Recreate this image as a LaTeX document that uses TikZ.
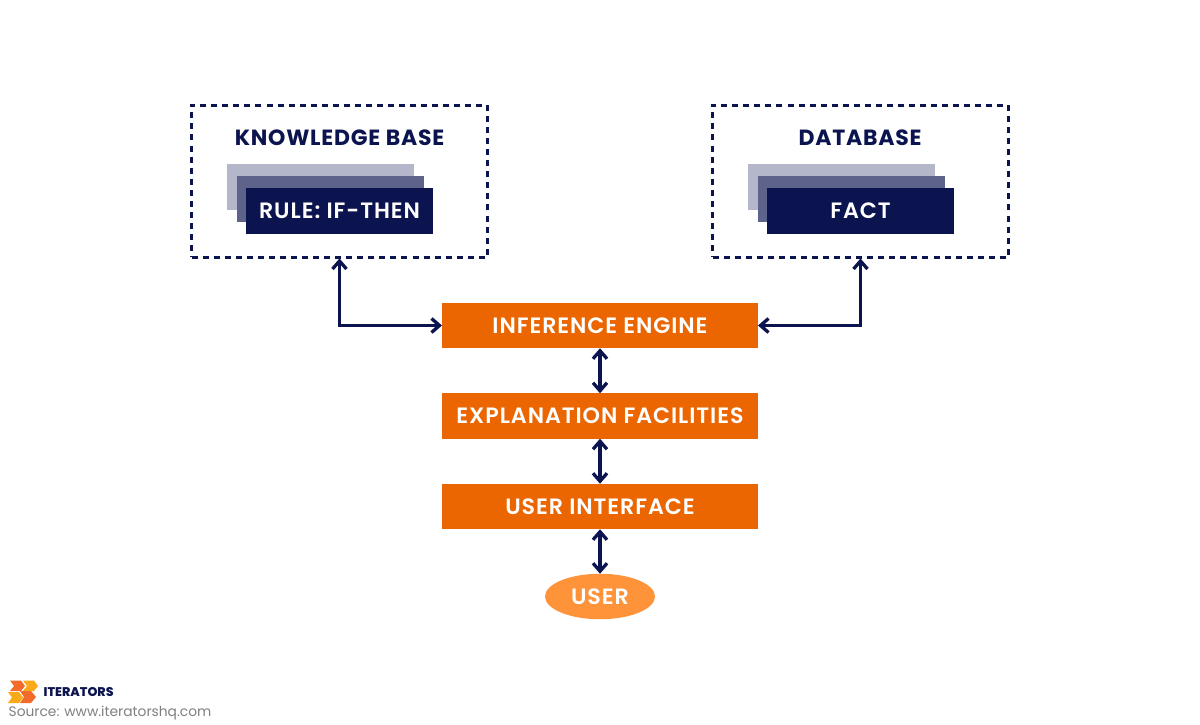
\documentclass[tikz,border=0pt]{standalone}
\usepackage{fontspec}
\setmainfont{Poppins}
\newfontfamily\labelfont[LetterSpace=4.2]{Poppins SemiBold}
\newfontfamily\titlefont[LetterSpace=3.5]{Poppins}
\newfontfamily\brandfont{Poppins ExtraBold}
\usetikzlibrary{arrows.meta,shapes.geometric}
\definecolor{navy}{HTML}{0C1450}
\definecolor{navymid}{HTML}{5E638B}
\definecolor{navylight}{HTML}{B4B6CA}
\definecolor{orng}{HTML}{EB6600}
\definecolor{lightorng}{HTML}{FF933A}
\definecolor{logoA}{HTML}{F26B2A}
\definecolor{logoB}{HTML}{FBA919}
\definecolor{srcgrey}{HTML}{808080}
\newcommand{\lowered}[1]{\raisebox{-0.8pt}{#1}}
\tikzset{
  x=1pt,y=-1pt,
  lbl/.style={font=\labelfont\fontsize{22.2}{22}\selectfont},
  ttl/.style={font=\titlefont\bfseries\fontsize{22}{22}\selectfont,text=navy},
  dashbox/.style={draw=navy,line width=3pt,dash pattern=on 6pt off 5.05pt},
  sheet/.style={minimum width=187pt,minimum height=46pt,inner sep=0pt,outer sep=0pt,anchor=north west},
  engine/.style={fill=orng,text=white,lbl,minimum width=316pt,minimum height=45.5pt,inner sep=0pt,outer sep=0pt},
  link/.style={draw=navy,line width=3.3pt,{Straight Barb[length=8pt,width=14pt,line width=3.3pt]}-{Straight Barb[length=8pt,width=14pt,line width=3.3pt]}},
}
\begin{document}
\begin{tikzpicture}
\useasboundingbox (0,0) rectangle (1200,725);
\fill[white] (0,0) rectangle (1200,725);
% knowledge base
\node[dashbox,minimum width=296pt,minimum height=152pt,inner sep=0pt,outer sep=1.5pt] (kb) at (339.5,181) {};
\node[ttl] (kbt) at (339.5,138) {KNOWLEDGE BASE};
\node[sheet,fill=navylight] (r1) at (227,164) {};
\node[sheet,fill=navymid] (r2) at (237,176) {};
\node[sheet,fill=navy,text=white,lbl] (r3) at (246,188) {RULE: IF-THEN};
% database
\node[dashbox,minimum width=296pt,minimum height=152pt,inner sep=0pt,outer sep=1.5pt] (db) at (860.5,181) {};
\node[ttl] (dbt) at (860,138) {DATABASE};
\node[sheet,fill=navylight] (f1) at (748,164) {};
\node[sheet,fill=navymid] (f2) at (758,176) {};
\node[sheet,fill=navy,text=white,lbl] (f3) at (767,188) {FACT};
% stack
\node[engine] (ie) at (600,325.5) {\lowered{INFERENCE ENGINE}};
\node[engine] (ef) at (600,416) {EXPLANATION FACILITIES};
\node[engine] (ui) at (600,506.5) {\lowered{USER INTERFACE}};
\node[ellipse,fill=lightorng,text=white,lbl,minimum width=110pt,minimum height=45.5pt,inner sep=0pt,outer sep=0pt] (us) at (600,596.5) {\lowered{USER}};
% connectors
\draw[link] (kb.south) |- (ie.west);
\draw[link] (db.south) |- (ie.east);
\draw[link] (ie.south) -- (ef.north);
\draw[link] (ef.south) -- (ui.north);
\draw[link] (ui.south) -- (us.north);
% logo
\fill[logoA] (10,680.5) -- (21,680.5) -- (25,686) -- (21,691) -- (10,691) -- (14,686) -- cycle;
\fill[logoB] (23,680.5) -- (34,680.5) -- (38,686) -- (34,691) -- (23,691) -- (27,686) -- cycle;
\fill[logoB] (8,692) -- (19,692) -- (23,697.5) -- (19,703) -- (8,703) -- (12,697.5) -- cycle;
\fill[logoA] (20,691) -- (31,691) -- (36,697) -- (31,703) -- (20,703) -- (24,697) -- cycle;
\node[anchor=west,inner sep=0pt,text=navy,font=\brandfont\fontsize{12.6}{13}\selectfont] (brand) at (43.5,692.5) {ITERATORS};
\node[anchor=west,inner sep=0pt,text=srcgrey,font=\fontsize{13.8}{13.8}\selectfont] (src) at (8.5,713.5) {Source: www.iteratorshq.com};
\end{tikzpicture}
\end{document}
